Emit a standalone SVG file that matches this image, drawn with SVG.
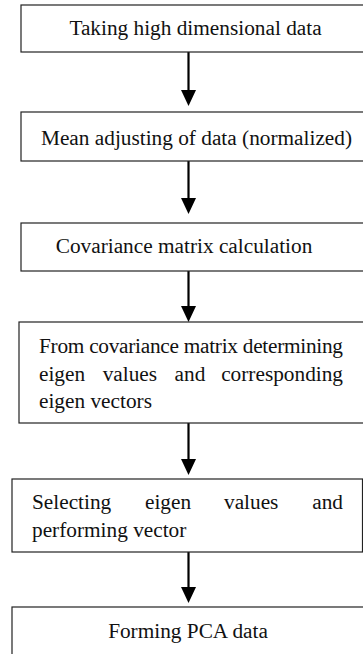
<svg xmlns="http://www.w3.org/2000/svg" width="363" height="654" viewBox="0 0 363 654">
<style>
.box{fill:#fff;stroke:#222;stroke-width:1.2}
.t{font-family:"Liberation Serif","Times New Roman","DejaVu Serif",serif;font-size:21.3px;fill:#111}
.c{text-anchor:middle}
.e{text-anchor:end}
.conn{stroke:#000;stroke-width:2.2;fill:none}
.head{fill:#000}
</style>
<rect width="363" height="654" fill="#fff"/>
<g id="connectors">
<line class="conn" x1="188.5" y1="52" x2="188.5" y2="91"/>
<polygon class="head" points="181,90 196,90 188.5,106"/>
<line class="conn" x1="188.5" y1="161" x2="188.5" y2="199"/>
<polygon class="head" points="181,198 196,198 188.5,214"/>
<line class="conn" x1="188.5" y1="271" x2="188.5" y2="307"/>
<polygon class="head" points="181,306 196,306 188.5,322"/>
<line class="conn" x1="188.5" y1="423" x2="188.5" y2="460"/>
<polygon class="head" points="181,459 196,459 188.5,475"/>
<line class="conn" x1="188.5" y1="552" x2="188.5" y2="588"/>
<polygon class="head" points="181,587 196,587 188.5,603"/>
</g>
<g id="n1">
<rect class="box" x="21" y="5" width="360" height="47"/>
<text class="t c" x="195.5" y="35">Taking high dimensional data</text>
</g>
<g id="n2">
<rect class="box" x="21" y="112" width="360" height="49"/>
<text class="t c" x="196.5" y="145">Mean adjusting of data (normalized)</text>
</g>
<g id="n3">
<rect class="box" x="21" y="223" width="360" height="48"/>
<text class="t c" x="184" y="253">Covariance matrix calculation</text>
</g>
<g id="n4">
<rect class="box" x="19" y="322" width="360" height="101"/>
<text class="t" x="39" y="353" textLength="304" lengthAdjust="spacing">From covariance matrix determining</text>
<text class="t" x="39" y="381">eigen</text>
<text class="t" x="102.7" y="381">values</text>
<text class="t" x="174.6" y="381">and</text>
<text class="t e" x="343" y="381">corresponding</text>
<text class="t" x="39" y="408">eigen vectors</text>
</g>
<g id="n5">
<rect class="box" x="12" y="479" width="350.5" height="73"/>
<text class="t" x="32" y="509">Selecting</text>
<text class="t" x="145" y="509">eigen</text>
<text class="t" x="224" y="509">values</text>
<text class="t e" x="343" y="509">and</text>
<text class="t" x="32" y="537">performing vector</text>
</g>
<g id="n6">
<rect class="box" x="12" y="607" width="360" height="60"/>
<text class="t c" x="188" y="638">Forming PCA data</text>
</g>
</svg>
